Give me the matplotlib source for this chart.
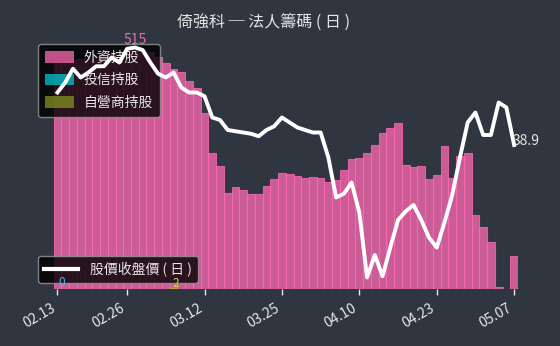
import matplotlib
matplotlib.use("Agg")
import matplotlib.pyplot as plt
import numpy as np
from matplotlib.patches import Patch
from matplotlib.lines import Line2D

plt.rcParams['font.family'] = ['Noto Sans CJK TC', 'DejaVu Sans']

# ---- data ----
foreign = [480, 485, 488, 490, 492, 495, 498, 500, 505, 510,
           515, 508, 504, 494, 481, 468, 462, 443, 428, 375,
           289, 262, 204, 217, 211, 202, 202, 219, 234, 247,
           245, 240, 236, 238, 236, 228, 232, 253, 277, 279,
           289, 306, 332, 343, 353, 264, 260, 262, 234, 243,
           304, 236, 283, 289, 157, 132, 100, 4, 0, 70]
trust = [0] * 60
dealer = [0] * 13 + [1, 1, 2] + [0] * 10 + [1] * 32 + [0, 0]
price = [41.0, 41.4, 41.95, 41.6, 41.8, 42.05, 42.05, 42.4, 42.2, 42.75,
         42.8, 42.7, 42.2, 41.75, 41.6, 41.8, 41.2, 41.0, 41.0, 40.85,
         40.0, 39.9, 39.5, 39.45, 39.4, 39.35, 39.25, 39.5, 39.65, 40.0,
         39.8, 39.6, 39.5, 39.4, 39.4, 38.4, 36.8, 36.95, 37.4, 36.2,
         33.6, 34.5, 33.65, 34.8, 35.9, 36.25, 36.5, 35.9, 35.2, 34.8,
         35.8, 36.9, 38.4, 39.8, 40.2, 39.3, 39.3, 40.6, 40.4, 38.9]
tick_pos = [0, 9, 19, 29, 39, 49, 59]
tick_labels = ['02.13', '02.26', '03.12', '03.25', '04.10', '04.23', '05.07']

bg = '#2f3640'
c_foreign = '#ff69b4'
c_trust = '#00c8d2'
c_dealer = '#a8b830'
txt = '#e6e6e6'

fig = plt.figure(figsize=(5.6, 3.46), dpi=100)
fig.patch.set_facecolor(bg)
ax = fig.add_axes([53.6 / 560, 1 - 289 / 346, (518 - 53.6) / 560, (289 - 30) / 346])
ax.set_facecolor(bg)

x = np.arange(len(foreign))
ax.bar(x, foreign, width=1.0, color=c_foreign, alpha=0.75, edgecolor=c_foreign,
       linewidth=0.8, zorder=2)
ax.bar(x, trust, width=1.0, color=c_trust, alpha=0.75, zorder=3)
ax.bar(x, dealer, width=1.0, color=c_dealer, alpha=0.8, zorder=3)

ax.set_xlim(-0.5, len(foreign) - 0.5)
ax.set_ylim(0, 515 * 259 / 242)
ax.set_yticks([])
for s in ax.spines.values():
    s.set_visible(False)
ax.set_xticks(tick_pos)
ax.set_xticklabels(tick_labels, rotation=30, ha='right', color=txt, fontsize=10)
ax.tick_params(axis='x', colors=txt, length=4, width=1, pad=5)
for lab in ax.get_xticklabels():
    lab.set_color(txt)

handles1 = [Patch(facecolor=c_foreign, alpha=0.75, label='外資持股'),
            Patch(facecolor=c_trust, alpha=0.75, label='投信持股'),
            Patch(facecolor='#7a8a20', alpha=0.8, label='自營商持股')]
leg1 = ax.legend(handles=handles1, loc='upper left', bbox_to_anchor=(-0.0336, 0.946),
                 borderaxespad=0, fontsize=10, facecolor='black', framealpha=0.8,
                 edgecolor='#999999', labelcolor=txt, handlelength=2.1,
                 handleheight=0.9, handletextpad=0.7, borderpad=0.5,
                 labelspacing=0.6, fancybox=True)
leg1.set_zorder(4)

ax2 = ax.twinx()
ax2.patch.set_visible(False)
ax2.plot(x, price, color='white', linewidth=2.8, zorder=6)
ax2.set_ylim(33.14, 43.5)
ax2.set_yticks([])
for s in ax2.spines.values():
    s.set_visible(False)
ax2.text(x[-1] - 0.2, price[-1] + 0.15, f'{price[-1]}', color=txt, fontsize=10,
         ha='left', va='center')

leg2 = ax2.legend(handles=[Line2D([0], [0], color='white', lw=3, label='股價收盤價 ( 日 )')],
                  loc='lower left', bbox_to_anchor=(-0.0336, 0.023), borderaxespad=0,
                  fontsize=10, facecolor='black', framealpha=0.8, edgecolor='#999999',
                  labelcolor=txt, handlelength=2.4, handletextpad=0.9, borderpad=0.45)

# max annotations (drawn on top layer)
im = int(np.argmax(foreign))
ax2.text(im, foreign[im], str(max(foreign)), color='#e070b0', fontsize=10,
         ha='center', va='bottom', zorder=5, transform=ax.transData)
it = int(np.argmax(trust))
ax2.text(it + 0.5, trust[it], str(max(trust)), color='#50b8e8', fontsize=8.5,
         ha='center', va='bottom', zorder=7, transform=ax.transData)
idl = int(np.argmax(dealer))
ax2.text(idl + 0.3, dealer[idl] - 4, str(max(dealer)), color='#d8d050', fontsize=8.5,
         ha='center', va='bottom', zorder=7, transform=ax.transData)

fig.text(264 / 560, 1 - 22 / 346, '倚強科 ─ 法人籌碼 ( 日 )', color=txt, fontsize=11.5,
         ha='center', va='center')

fig.savefig('out.png', dpi=100, facecolor=bg)
